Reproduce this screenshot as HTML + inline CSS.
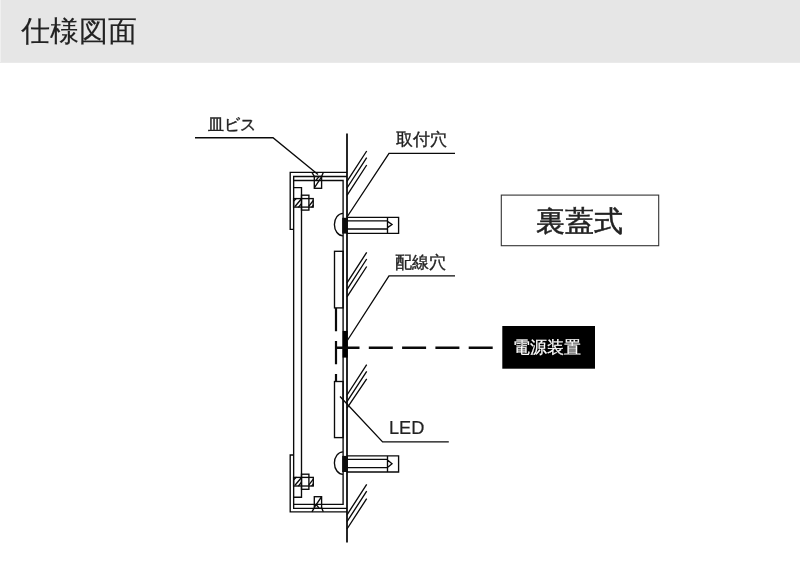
<!DOCTYPE html>
<html><head><meta charset="utf-8">
<style>
html,body{margin:0;padding:0;background:#fff;width:800px;height:580px;overflow:hidden}
body{font-family:"Liberation Sans",sans-serif;position:relative}
.hdr{position:absolute;left:0;top:0;width:800px;height:62px;background:#e6e6e6}
.t{position:absolute;white-space:nowrap;line-height:1;color:#222;will-change:transform}
svg{position:absolute;left:0;top:0}
</style></head><body>
<div class="hdr"></div><div style="position:absolute;left:0;top:62px;width:800px;height:1px;background:#eaeaea"></div><div style="position:absolute;left:0;top:0;width:1px;height:62px;background:#f0f0f0"></div>
<div class="t" id="title" style="left:21px;top:17px;font-size:29px;-webkit-text-stroke:0.15px #222">仕様図面</div>
<svg width="800" height="580" viewBox="0 0 800 580">
<g fill="none" stroke="#0a0a0a" stroke-width="1.35">
 <!-- wall -->
 <line x1="347" y1="133.5" x2="347" y2="542.5" stroke-width="1.7" stroke="#000"/>
 <!-- outer frame -->
 <path d="M293.6,229.3 H290.2 V172.4 H347"/>
 <path d="M293.6,455 H290.2 V511.8 H347"/>
 <!-- second line -->
 <path d="M347,176.45 H293.65 V508.3 H347"/>
 <!-- third line -->
 <path d="M293.65,180.45 H343.1 V504.4 H293.65"/>
 <!-- panel -->
 <path d="M293.6,187.6 H301.5 V497.2 H293.6"/>
 <!-- top screw -->
 <path d="M311.9,172.4 L314.3,176.4 M323.3,172.4 L321.6,176.4" />
 <rect x="314.3" y="176.4" width="7.3" height="11.9"/>
 <path d="M314.5,187.6 L321.4,177.2 M316,180.2 L319,176.6"/>
 <!-- bottom screw -->
 <path d="M311.9,511.8 L314.3,507.8 M323.3,511.8 L321.6,507.8" />
 <rect x="314.3" y="496.7" width="7.3" height="11.6"/>
 <path d="M314.5,507.2 L321.4,497 M316,504.4 L319,508"/>
 <!-- top nut/bolt -->
 <rect x="301.5" y="195.2" width="7.4" height="14.9"/>
 <rect x="293.6" y="198.6" width="19.6" height="8.5"/>
 <path d="M295,206.5 L301.3,199 M293.7,201 L296.5,198.3 M298.3,207.4 L301.5,203.6 M308.9,206.2 L313.3,200.5 M311.6,207.4 L313.5,205"/>
 <!-- bottom nut/bolt -->
 <rect x="301.5" y="474.2" width="7.4" height="15.1"/>
 <rect x="293.6" y="477.4" width="19.7" height="8.6"/>
 <path d="M295,485.2 L301.3,477.7 M293.7,479.7 L296.5,477 M298.3,486.1 L301.5,482.3 M308.9,484.9 L313.3,479.2 M311.6,486.1 L313.5,483.7"/>
 <!-- LED rects -->
 <rect x="334.5" y="251.3" width="8.6" height="56.6"/>
 <rect x="334.5" y="381.5" width="8.6" height="56.1"/>
 <!-- hatch -->
 <path d="M366.7,151 L347,181.4 M366.7,157.6 L347,188 M366.7,165 L347,195.3"/>
 <path d="M366.7,252.4 L347,282.8 M366.7,259 L347,289.6 M366.7,266.5 L347,296.8"/>
 <path d="M366.7,364.6 L347,395 M366.7,371.4 L347,401.6 M366.7,378.8 L347,408.2"/>
 <path d="M366.7,484.4 L347,514.8 M366.7,491.2 L347,521.6 M366.7,498.6 L347,529"/>
 <!-- top bolt -->
 <path d="M343,213.3 A8.6,11.25 0 0 0 343,235.8"/>
 <rect x="342.2" y="217.8" width="5.6" height="15.8" fill="#0d0d0d" stroke="none"/>
 <path d="M347,217.4 H398.6 V233.4 H347 M347,220.8 H387.5 M347,229 H387.5 M387.5,217.4 V233.4 M387.5,221.4 L392,224.5 L387.5,227.6"/>
 <!-- bottom bolt -->
 <path d="M343,451.8 A8.6,11.25 0 0 0 343,474.3"/>
 <rect x="342.2" y="455.9" width="5.6" height="16.1" fill="#0d0d0d" stroke="none"/>
 <path d="M347,455.8 H398.6 V472 H347 M347,459.3 H387.5 M347,467.6 H387.5 M387.5,455.8 V472 M387.5,459.9 L392,463.7 L387.5,467.4"/>
 <!-- power black rect -->
 <rect x="342.6" y="330.9" width="5.1" height="26.7" fill="#000" stroke="none"/>
 <!-- leaders -->
 <path d="M195,137.7 H273 L318,174.5" stroke-width="1.35"/>
 <path d="M455,153.3 H389 L347,217" stroke-width="1.35"/>
 <path d="M455,275.9 H389 L347,341" stroke-width="1.35"/>
 <path d="M340,396.5 L382.6,441.9 H448.8" stroke-width="1.35"/>
 <!-- dashed -->
 <path d="M336,307.9 V381.5" stroke-width="2.2" stroke-dasharray="23.3 9.8"/>
 <path d="M335.5,347.7 H492.7" stroke-width="2.5" stroke-dasharray="24 9.3"/>
</g>
<rect x="501.3" y="195.1" width="157.4" height="50.6" fill="none" stroke="#333" stroke-width="1.1"/>
<rect x="502.3" y="326" width="92.7" height="42.7" fill="#000"/>
</svg>
<div class="t" id="t1" style="left:208px;top:115.6px;font-size:16.4px;-webkit-text-stroke:0.4px #222">皿ビス</div>
<div class="t" id="t2" style="left:395.5px;top:131px;font-size:16.5px;-webkit-text-stroke:0.35px #222">取付穴</div>
<div class="t" id="t3" style="left:395px;top:254px;font-size:16.5px;-webkit-text-stroke:0.35px #222">配線穴</div>
<div class="t" id="t4" style="left:388.9px;top:419px;font-size:18.2px;-webkit-text-stroke:0.2px #222">LED</div>
<div class="t" id="t5" style="left:535.5px;top:207px;font-size:29px;-webkit-text-stroke:0.5px #222">裏蓋式</div>
<div class="t" id="t6" style="left:513px;top:340px;font-size:16.8px;color:#fff;-webkit-text-stroke:0.25px #fff">電源装置</div>
</body></html>
